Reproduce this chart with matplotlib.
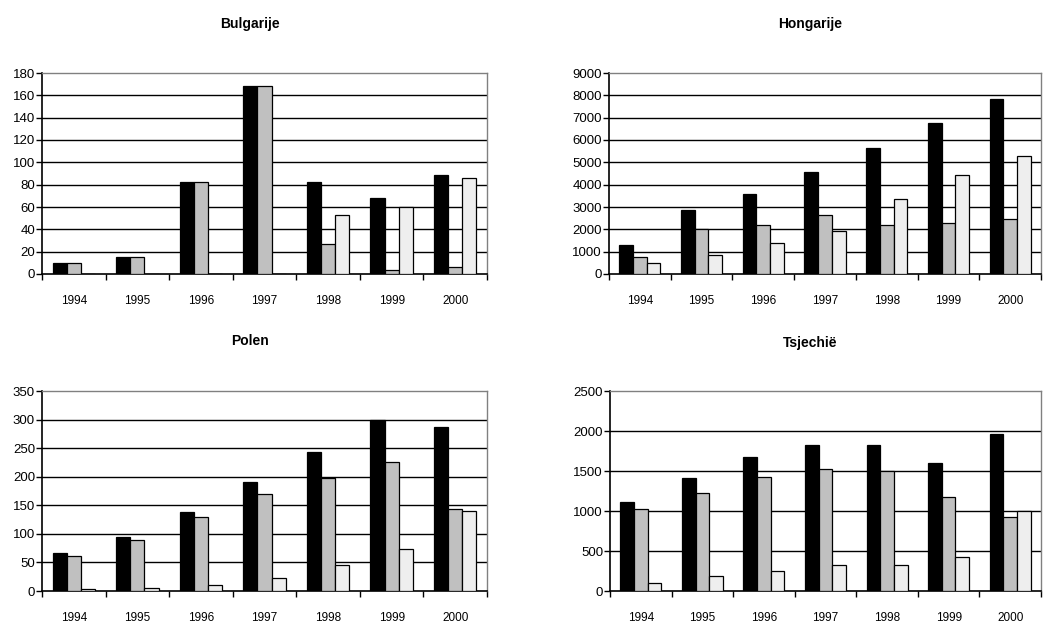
import matplotlib
matplotlib.use("Agg")
import matplotlib.pyplot as plt
import numpy as np

years = ["1994", "1995", "1996", "1997", "1998", "1999", "2000"]

bulgarije_a = [10, 15, 82, 168, 82, 68, 89]
bulgarije_b = [10, 15, 82, 168, 27, 4, 6]
bulgarije_c = [0, 0, 0, 0, 53, 60, 86]

hongarije_a = [1300, 2850, 3580, 4580, 5650, 6750, 7820]
hongarije_b = [750, 2000, 2200, 2650, 2200, 2270, 2460]
hongarije_c = [480, 830, 1380, 1930, 3380, 4450, 5270]

polen_a = [66, 95, 138, 191, 244, 300, 287]
polen_b = [62, 90, 130, 169, 197, 225, 144]
polen_c = [3, 6, 10, 23, 45, 73, 140]

tsjechie_a = [1110, 1410, 1680, 1830, 1830, 1600, 1960]
tsjechie_b = [1030, 1230, 1430, 1530, 1500, 1170, 920]
tsjechie_c = [100, 190, 250, 320, 320, 420, 1000]

panels = [
    ("Bulgarije", (bulgarije_a, bulgarije_b, bulgarije_c), 180, 20),
    ("Hongarije", (hongarije_a, hongarije_b, hongarije_c), 9000, 1000),
    ("Polen", (polen_a, polen_b, polen_c), 350, 50),
    ("Tsjechië", (tsjechie_a, tsjechie_b, tsjechie_c), 2500, 500),
]

colors = ["#000000", "#c0c0c0", "#eeeeee"]

plt.rcParams['font.family'] = ['Liberation Sans', 'DejaVu Sans']

W, H = 1043, 624
fig = plt.figure(figsize=(W / 100, H / 100), dpi=100)

# axes boxes in pixels: (left, top, right, bottom)
boxes = [(42, 73, 487, 274), (609, 73, 1041, 274),
         (42, 391, 487, 591), (610, 391, 1041, 591)]
title_pos = [(250, 24), (810, 24), (250, 341), (810, 343)]

n = len(years)
bw = 0.222
for (title, series, ymax, step), (l, t, r, b), (tx, ty) in zip(panels, boxes, title_pos):
    ax = fig.add_axes([l / W, 1 - b / H, (r - l) / W, (b - t) / H])
    x = np.arange(n)
    for i, (vals, c) in enumerate(zip(series, colors)):
        ax.bar(x + (i - 1) * bw, vals, width=bw, color=c, edgecolor="black",
               linewidth=0.9, zorder=3)
    ax.set_xlim(-0.5, n - 0.5)
    ax.set_ylim(0, ymax)
    ticks = np.arange(0, ymax + step / 2, step)
    ax.set_yticks(ticks)
    ax.set_yticklabels([str(int(v)) for v in ticks], fontsize=9.5)
    for v in ticks[1:-1]:
        ax.axhline(v, color="black", linewidth=1.0, zorder=1)
    ax.set_xticks(np.arange(n + 1) - 0.5)
    ax.set_xticklabels([])
    ax.set_xticks(x, minor=True)
    ax.set_xticklabels(years, minor=True, fontsize=8.5)
    ax.tick_params(axis="x", which="minor", length=0, pad=15)
    ax.tick_params(axis="x", which="major", length=4, width=1, direction="out")
    ax.tick_params(axis="y", length=4, width=1, direction="out", pad=1)
    for s in ["top", "right"]:
        ax.spines[s].set_color("#808080")
        ax.spines[s].set_linewidth(1.0)
    for s in ["left", "bottom"]:
        ax.spines[s].set_color("black")
        ax.spines[s].set_linewidth(1.2)
    fig.text(tx / W, 1 - ty / H, title, ha="center", va="center",
             fontsize=10, fontweight="bold")

fig.savefig("out.png", dpi=100)
